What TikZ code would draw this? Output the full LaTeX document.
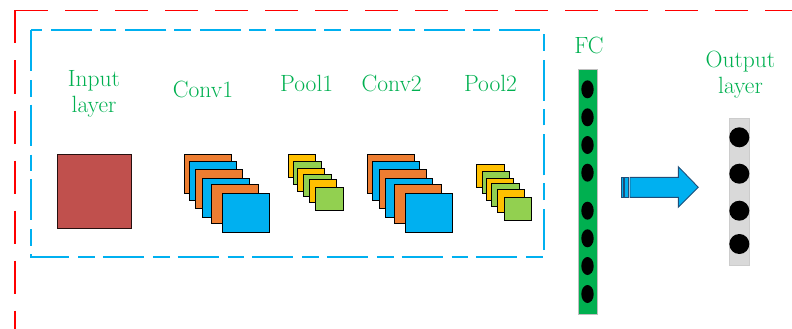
\documentclass[tikz,border=0pt]{standalone}
\usetikzlibrary{shapes.geometric}
\definecolor{redline}{HTML}{FF0000}
\definecolor{blueline}{HTML}{00B0F0}
\definecolor{txtgreen}{HTML}{00B050}
\definecolor{orng}{HTML}{ED7D31}
\definecolor{bluef}{HTML}{00B0F0}
\definecolor{yell}{HTML}{FFC000}
\definecolor{grn}{HTML}{92D050}
\definecolor{inred}{HTML}{C0504D}
\definecolor{fcgreen}{HTML}{00B050}
\definecolor{outgray}{HTML}{D9D9D9}
\definecolor{arrline}{HTML}{1F4E79}
\tikzset{
  lbl/.style={text=txtgreen, font=\fontsize{23.5}{26}\selectfont, inner sep=0pt, align=center},
  fmap/.style={draw=black, line width=0.9pt, minimum width=47pt, minimum height=39pt, inner sep=0pt, anchor=north west},
  pmap/.style={draw=black, line width=0.9pt, minimum width=27.3pt, minimum height=22.7pt, inner sep=0pt, anchor=north west},
  fcdot/.style={ellipse, fill=black, minimum width=12.4pt, minimum height=18pt, inner sep=0pt},
  outdot/.style={circle, fill=black, minimum size=20pt, inner sep=0pt},
}
\begin{document}
\begin{tikzpicture}[x=1pt,y=-1pt]
\useasboundingbox (0,0) rectangle (792,329);
% outer red dashed frame
\draw[redline, line width=1.6pt, dash pattern=on 33pt off 17pt] (15,10.5) -- (792,10.5);
\draw[redline, line width=1.6pt, dash pattern=on 33pt off 17pt] (15,10.5) -- (15,329);
% inner blue dash-dot frame
\draw[blueline, line width=1.7pt, dash pattern=on 41pt off 9pt on 16.7pt off 8pt] (31,30) rectangle (544,257);
% labels
\node[lbl, anchor=north] (tin) at (94,70) {Input\\layer};
\node[lbl, anchor=base] (tc1) at (203,97) {Conv1};
\node[lbl, anchor=base] (tp1) at (306.7,92) {Pool1};
\node[lbl, anchor=base] (tc2) at (391.7,92) {Conv2};
\node[lbl, anchor=base] (tp2) at (490.5,92) {Pool2};
\node[lbl, anchor=base] (tfc) at (589,53) {FC};
\node[lbl, anchor=north] (tout) at (740.5,51) {Output\\layer};
% input
\node[draw=black!80!inred, fill=inred, line width=0.9pt, minimum width=74.3pt, minimum height=73.7pt, anchor=north west, inner sep=0pt] (inp) at (57,154) {};
% conv1
\node[fmap, fill=orng]  (c1a) at (184,154) {};
\node[fmap, fill=bluef] (c1b) at (188.7,161.3) {};
\node[fmap, fill=orng]  (c1c) at (195.3,169) {};
\node[fmap, fill=bluef] (c1d) at (202,178.3) {};
\node[fmap, fill=orng]  (c1e) at (211,184) {};
\node[fmap, fill=bluef] (c1f) at (221.7,193.3) {};
% pool1
\node[pmap, fill=yell] (p1a) at (287.7,154) {};
\node[pmap, fill=grn]  (p1b) at (293.3,161) {};
\node[pmap, fill=yell] (p1c) at (297,168.3) {};
\node[pmap, fill=grn]  (p1d) at (303.3,173.7) {};
\node[pmap, fill=yell] (p1e) at (308.7,179) {};
\node[pmap, fill=grn]  (p1f) at (315.3,187.3) {};
% conv2
\node[fmap, fill=orng]  (c2a) at (367.3,154) {};
\node[fmap, fill=bluef] (c2b) at (372,161.3) {};
\node[fmap, fill=orng]  (c2c) at (378.7,169) {};
\node[fmap, fill=bluef] (c2d) at (385.3,178.3) {};
\node[fmap, fill=orng]  (c2e) at (394,184) {};
\node[fmap, fill=bluef] (c2f) at (405.3,193.3) {};
% pool2
\node[pmap, fill=yell] (p2a) at (476.3,164) {};
\node[pmap, fill=grn]  (p2b) at (482,170.7) {};
\node[pmap, fill=yell] (p2c) at (485.7,177.7) {};
\node[pmap, fill=grn]  (p2d) at (491.3,183) {};
\node[pmap, fill=yell] (p2e) at (497,189) {};
\node[pmap, fill=grn]  (p2f) at (504,197.3) {};
% FC bar
\node[draw=black!25, fill=fcgreen, line width=0.8pt, minimum width=19.3pt, minimum height=245pt, inner sep=0pt, anchor=north west] (fc) at (578,69.3) {};
\foreach \yy [count=\i] in {89.3,117.3,145,172.7,210.7,238.3,266,294}
  \node[fcdot] (fcd\i) at (587.5,\yy) {};
% output bar
\node[draw=black!20, fill=outgray, line width=0.8pt, minimum width=20pt, minimum height=146.7pt, inner sep=0pt, anchor=north west] (out) at (729.3,118.3) {};
\foreach \yy [count=\i] in {137.3,173.7,210.7,244}
  \node[outdot] (od\i) at (739.3,\yy) {};
% striped block arrow
\draw[arrline, fill=bluef, line width=0.9pt] (621,177.3) rectangle (623.3,197.3);
\draw[arrline, fill=bluef, line width=0.9pt] (624.6,177.3) rectangle (628.8,197.3);
\draw[arrline, fill=bluef, line width=0.9pt, line join=miter]
  (630,177.3) -- (678.3,177.3) -- (678.3,166.7) -- (698.3,187.3) -- (678.3,207.3) -- (678.3,197.3) -- (630,197.3) -- cycle;
\end{tikzpicture}
\end{document}
